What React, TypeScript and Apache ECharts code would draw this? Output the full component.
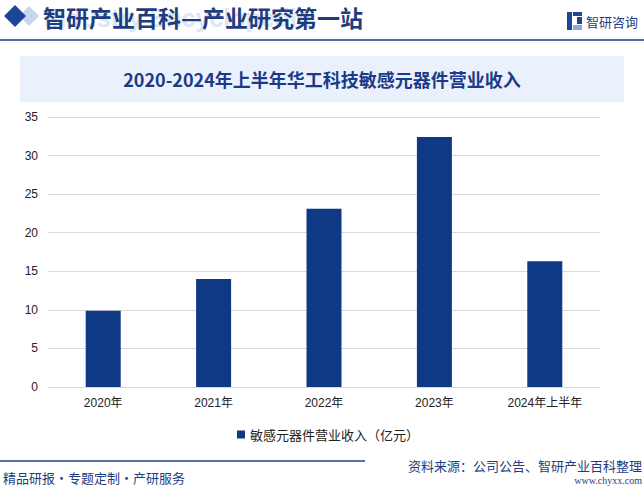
import React, { useEffect, useRef } from "react";
import * as echarts from "echarts";

const categories = ["2020年", "2021年", "2022年", "2023年", "2024年上半年"];
const revenue = [9.9, 14.0, 23.1, 32.4, 16.3];
const seriesName = "敏感元器件营业收入（亿元）";
const chartTitle = "2020-2024年上半年华工科技敏感元器件营业收入";
const headerText = "智研产业百科—产业研究第一站";
const watermark = "Industry Encyclopedia";
const logoText = "智研咨询";
const footerLeft = "精品研报·专题定制·产研服务";
const footerSource = "资料来源：公司公告、智研产业百科整理";
const footerUrl = "www.chyxx.com";

const DARK = "#1F3D7E";
const BAR = "#0F3885";
const CJK = "'Noto Sans CJK SC', 'Liberation Sans', sans-serif";
const NUM = "'Liberation Sans', 'Noto Sans CJK SC', sans-serif";

export default function App() {
  const ref = useRef<HTMLDivElement>(null);
  useEffect(() => {
    if (!ref.current) return;
    const chart = echarts.init(ref.current, undefined, { renderer: "svg" });
    chart.setOption({
      animation: false,
      backgroundColor: "#ffffff",
      grid: { left: 48, right: 44, top: 117, bottom: 100, containLabel: false },
      legend: {
        data: [seriesName],
        top: 423,
        left: 232,
        itemWidth: 8,
        itemHeight: 8,
        itemGap: 4,
        icon: "rect",
        textStyle: { fontSize: 13, color: "#222", fontFamily: CJK },
      },
      xAxis: {
        type: "category",
        data: categories,
        axisLine: { lineStyle: { color: "#D9D9D9" } },
        axisTick: { show: false },
        axisLabel: { fontSize: 12, color: "#222", margin: 10, fontFamily: NUM },
      },
      yAxis: {
        type: "value",
        min: 0,
        max: 35,
        interval: 5,
        axisLine: { show: false },
        axisTick: { show: false },
        splitLine: { lineStyle: { color: "#D9D9D9" } },
        axisLabel: { fontSize: 12, color: "#222", margin: 10, fontFamily: NUM },
      },
      series: [
        {
          name: seriesName,
          type: "bar",
          data: revenue,
          barWidth: 35,
          itemStyle: { color: BAR },
        },
      ],
      graphic: [
        { type: "polygon", shape: { points: [[29, 6], [39, 16], [29, 26], [19, 16]] }, style: { fill: "#C9D6EF" } },
        { type: "polygon", shape: { points: [[15, 5], [26, 16], [15, 27], [4, 16]] }, style: { fill: "#1E4697" } },
        {
          type: "text",
          x: 44,
          y: 18,
          silent: true,
          style: {
            text: watermark,
            fill: "#DCE6F6",
            font: "bold 25px 'Liberation Sans', sans-serif",
            verticalAlign: "middle",
          },
        },
        {
          type: "text",
          x: 43,
          y: 17,
          style: {
            text: headerText,
            fill: DARK,
            font: "bold 23px " + CJK,
            verticalAlign: "middle",
          },
        },
        { type: "line", shape: { x1: 0, y1: 40, x2: 644, y2: 40 }, style: { stroke: "#1F3F8F", lineWidth: 1.5 } },
        { type: "rect", shape: { x: 567, y: 12, width: 5, height: 18 }, style: { fill: "#1E4697" } },
        { type: "rect", shape: { x: 573, y: 12, width: 9, height: 4 }, style: { fill: "#1E4697" } },
        { type: "rect", shape: { x: 577, y: 17, width: 5, height: 7 }, style: { fill: "#1E4697" } },
        { type: "rect", shape: { x: 573, y: 25, width: 9, height: 5 }, style: { fill: "#8FA8D8" } },
        {
          type: "text",
          x: 586,
          y: 21,
          style: { text: logoText, fill: DARK, font: "13px " + CJK, verticalAlign: "middle" },
        },
        { type: "rect", shape: { x: 20, y: 56, width: 604, height: 46 }, style: { fill: "#EAF1FC" } },
        {
          type: "text",
          x: 322,
          y: 79,
          style: {
            text: chartTitle,
            fill: "#1B3A87",
            font: "bold 18px " + CJK,
            align: "center",
            verticalAlign: "middle",
          },
        },
        { type: "line", shape: { x1: 0, y1: 461, x2: 365, y2: 461 }, style: { stroke: "#1F3F8F", lineWidth: 1.5 } },
        {
          type: "text",
          x: 3,
          y: 477,
          style: { text: footerLeft, fill: DARK, font: "13px " + CJK, verticalAlign: "middle" },
        },
        {
          type: "text",
          x: 642,
          y: 465,
          style: { text: footerSource, fill: DARK, font: "13px " + CJK, align: "right", verticalAlign: "middle" },
        },
        {
          type: "text",
          x: 642,
          y: 480,
          style: { text: footerUrl, fill: DARK, font: "10px 'Liberation Serif', serif", align: "right", verticalAlign: "middle" },
        },
      ],
    });
    return () => chart.dispose();
  }, []);
  return (
    <div
      ref={ref}
      style={{ position: "fixed", left: 0, top: 0, width: 644, height: 487 }}
    />
  );
}
